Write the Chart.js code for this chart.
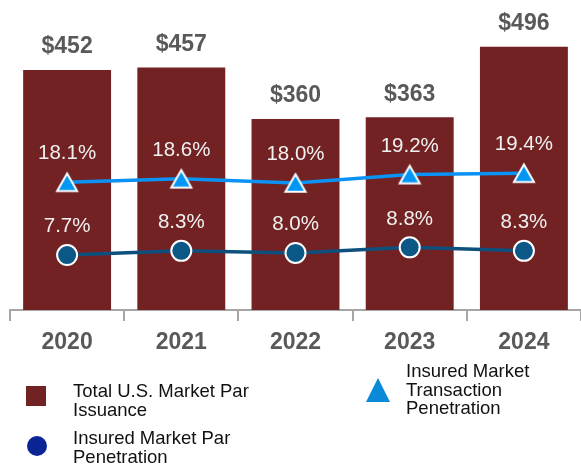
<!DOCTYPE html>
<html>
<head>
<meta charset="utf-8">
<script src="https://cdn.jsdelivr.net/npm/chart.js@4/dist/chart.umd.min.js"></script>
<style>
  html, body { margin: 0; padding: 0; background: #ffffff; }
  #wrap { position: relative; width: 581px; height: 465px; overflow: hidden; font-family: "Liberation Sans", Arial, sans-serif; }
  canvas { position: absolute; left: 0; top: 0; }
  .lg-text { position: absolute; font-size: 18.5px; line-height: 19px; color: #111111; white-space: nowrap; }
  .lg-sq { position: absolute; left: 26px; top: 386px; width: 20px; height: 20px; background: #722223; }
  .lg-circ { position: absolute; left: 27px; top: 436px; width: 20px; height: 20px; border-radius: 50%; background: #0A2496; }
  .lg-tri { position: absolute; left: 366px; top: 378px; width: 24px; height: 24px; background: #0A8AD6; clip-path: polygon(50% 0, 100% 100%, 0 100%); }
</style>
</head>
<body>
<div id="wrap">
  <canvas id="c" width="581" height="465"></canvas>
  <div class="lg-sq"></div>
  <div class="lg-text" style="left:73px; top:381px;">Total U.S. Market Par<br>Issuance</div>
  <div class="lg-circ"></div>
  <div class="lg-text" style="left:73px; top:428px;">Insured Market Par<br>Penetration</div>
  <div class="lg-tri"></div>
  <div class="lg-text" style="left:406px; top:362px; line-height:18.5px;">Insured Market<br>Transaction<br>Penetration</div>
</div>
<script>
// ---- Data ----
const years = ["2020", "2021", "2022", "2023", "2024"];
const parIssuance = [452, 457, 360, 363, 496];            // $ billions
const transactionPenetration = [18.1, 18.6, 18.0, 19.2, 19.4]; // %
const parPenetration = [7.7, 8.3, 8.0, 8.8, 8.3];           // %

const FONT = '"Liberation Sans", Arial, sans-serif';

// Triangle marker centred on its bounding box
function makeTriangle() {
  const cv = document.createElement('canvas');
  cv.width = 28; cv.height = 28;
  const g = cv.getContext('2d');
  g.beginPath();
  g.moveTo(14, 14 - 8.7);
  g.lineTo(24, 14 + 8.7);
  g.lineTo(4, 14 + 8.7);
  g.closePath();
  g.fillStyle = '#0096F2';
  g.fill();
  g.lineWidth = 2;
  g.strokeStyle = '#ffffff';
  g.stroke();
  return cv;
}

const valueLabels = {
  id: 'valueLabels',
  afterDatasetsDraw(chart) {
    const ctx = chart.ctx;
    ctx.save();
    chart.data.datasets.forEach((ds, di) => {
      const meta = chart.getDatasetMeta(di);
      meta.data.forEach((el, i) => {
        const v = ds.data[i];
        ctx.textAlign = 'center';
        ctx.textBaseline = 'middle';
        if (ds.type === 'bar') {
          ctx.font = 'bold 23px ' + FONT;
          ctx.fillStyle = '#595959';
          ctx.fillText('$' + v, el.x, el.y - 23);
        } else {
          ctx.font = '20.5px ' + FONT;
          ctx.fillStyle = '#F0F0F0';
          ctx.fillText(v.toFixed(1) + '%', el.x, el.y - 28.5);
        }
      });
    });
    ctx.restore();
  }
};

new Chart(document.getElementById('c'), {
  data: {
    labels: years,
    datasets: [
      {
        type: 'line',
        label: 'Insured Market Transaction Penetration',
        data: transactionPenetration,
        yAxisID: 'y2',
        borderColor: '#0A93F5',
        borderWidth: 3.5,
        tension: 0,
        pointStyle: makeTriangle(),
        pointRadius: 12,
        order: 1
      },
      {
        type: 'line',
        label: 'Insured Market Par Penetration',
        data: parPenetration,
        yAxisID: 'y2',
        borderColor: '#0E507D',
        borderWidth: 3.5,
        tension: 0,
        pointStyle: 'circle',
        pointRadius: 10,
        pointBackgroundColor: '#0B5785',
        pointBorderColor: '#ffffff',
        pointBorderWidth: 2,
        order: 2
      },
      {
        type: 'bar',
        label: 'Total U.S. Market Par Issuance',
        data: parIssuance,
        yAxisID: 'y',
        backgroundColor: '#722223',
        borderWidth: 0,
        categoryPercentage: 1,
        barPercentage: 0.77,
        order: 3
      }
    ]
  },
  options: {
    responsive: false,
    animation: false,
    devicePixelRatio: 1,
    layout: { autoPadding: false, padding: { left: 10, right: 0, top: 0, bottom: 100.4 } },
    plugins: { legend: { display: false }, tooltip: { enabled: false } },
    scales: {
      x: {
        type: 'category',
        offset: true,
        grid: { display: true, drawOnChartArea: false, drawTicks: true, tickLength: 11, color: '#A6A6A6', lineWidth: 2, offset: true },
        border: { display: true, color: '#A6A6A6', width: 2 },
        ticks: { font: { family: FONT, size: 23, weight: 'bold' }, color: '#595959', padding: 8, maxRotation: 0 }
      },
      y: { display: false, min: 0, max: 584 },
      y2: { display: false, min: -0.15, max: 44.15 }
    }
  },
  plugins: [valueLabels]
});
</script>
</body>
</html>
